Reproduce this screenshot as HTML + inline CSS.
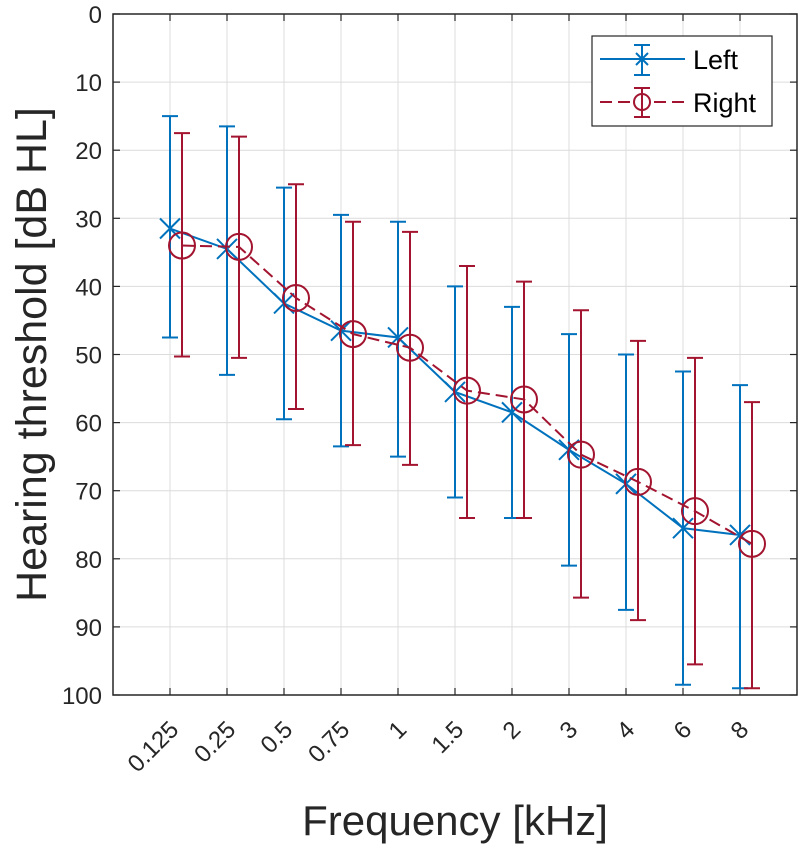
<!DOCTYPE html>
<html><head><meta charset="utf-8"><style>
body{margin:0;background:#fff;}
svg text{font-family:"Liberation Sans",Arial,sans-serif;}
</style></head><body>
<svg id="chart" width="800" height="845" xmlns="http://www.w3.org/2000/svg"></svg>
<script>
const categories=["0.125","0.25","0.5","0.75","1","1.5","2","3","4","6","8"];
const leftMean=[31.5,34.5,42.5,46.5,47.5,55.5,58.5,64,69,75.5,76.5];
const leftTop=[15,16.5,25.5,29.5,30.5,40,43,47,50,52.5,54.5];
const leftBottom=[47.5,53,59.5,63.5,65,71,74,81,87.5,98.5,99];
const rightMean=[34,34.2,41.7,47,49,55.3,56.6,64.7,68.7,73,77.8];
const rightTop=[17.5,18,25,30.5,32,37,39.3,43.5,48,50.5,57];
const rightBottom=[50.3,50.5,58,63.3,66.2,74,74,85.7,89,95.5,99];
const yTicks=[0,10,20,30,40,50,60,70,80,90,100];

const svg=document.getElementById('chart');
const NS="http://www.w3.org/2000/svg";
const L=113,R=797,T=14,B=695;
const xs=i=>L+(i+1)*(R-L)/12;
const ys=v=>T+v*(B-T)/100;
function mk(tag,attrs,parent){const e=document.createElementNS(NS,tag);for(const k in attrs)e.setAttribute(k,attrs[k]);(parent||svg).appendChild(e);return e;}

yTicks.forEach(v=>{
  const g=mk('line',{x1:L,x2:R,y1:ys(v),y2:ys(v),stroke:'#dcdcdc','stroke-width':1});
  
  
  const t=mk('line',{x1:L,x2:L+7,y1:ys(v),y2:ys(v),stroke:'#262626','stroke-width':1.2});
  
  
  const t2=mk('line',{x1:R-7,x2:R,y1:ys(v),y2:ys(v),stroke:'#262626','stroke-width':1.2});
  
  
  const lb=mk('text',{x:L-11,y:ys(v)+9,'text-anchor':'end','font-size':24,fill:'#262626'});
  lb.textContent=v;
  
  
});
categories.forEach((c,i)=>{
  const x=xs(i);
  const g=mk('line',{x1:x,x2:x,y1:T,y2:B,stroke:'#dcdcdc','stroke-width':1});
  
  
  const t=mk('line',{x1:x,x2:x,y1:B-7,y2:B,stroke:'#262626','stroke-width':1.2});
  
  
  const t2=mk('line',{x1:x,x2:x,y1:T,y2:T+7,stroke:'#262626','stroke-width':1.2});
  
  
  const lb=mk('text',{x:x+10,y:B+36,'text-anchor':'end','font-size':24,fill:'#262626',transform:`rotate(-45 ${x+10} ${B+36})`});
  lb.textContent=c;
  
  
});
const box=mk('rect',{x:L,y:T,width:R-L,height:B-T,fill:'none',stroke:'#262626','stroke-width':1.5});



function series(mean,top,bot,off,color,dash,marker,name){
  const g=mk('g',{});
  
  
  mean.forEach((m,i)=>{
    const x=xs(i)+off;
    const e=mk('path',{d:`M${x},${ys(top[i])}V${ys(bot[i])}M${x-8},${ys(top[i])}H${x+8}M${x-8},${ys(bot[i])}H${x+8}`,stroke:color,'stroke-width':2,fill:'none'},g);
    
    
  });
  const ln=mk('polyline',{points:mean.map((m,i)=>`${xs(i)+off},${ys(m)}`).join(' '),fill:'none',stroke:color,'stroke-width':2,'stroke-dasharray':dash},g);
  
  
  mean.forEach((m,i)=>{
    const x=xs(i)+off,y=ys(m);
    let e;
    if(marker==='x') e=mk('path',{d:`M${x-10},${y-10}L${x+10},${y+10}M${x-10},${y+10}L${x+10},${y-10}M${x},${y-11}V${y+11}`,stroke:color,'stroke-width':2,fill:'none'},g);
    else e=mk('circle',{cx:x,cy:y,r:13,stroke:color,'stroke-width':2,fill:'none'},g);
    
    
  });
}
series(leftMean,leftTop,leftBottom,0,'#0072BD','','x','left');
series(rightMean,rightTop,rightBottom,12,'#A2142F','12,6','o','right');

const lg=mk('g',{});


mk('rect',{x:592,y:36,width:180,height:90,fill:'#fff',stroke:'#262626','stroke-width':1.2},lg);
const e1=mk('path',{d:'M600,59H685M642,45V75M634,45H650M634,75H650M636,53L648,65M636,65L648,53',stroke:'#0072BD','stroke-width':2,fill:'none'},lg);


const t1=mk('text',{x:693,y:69,'font-size':27,fill:'#000'},lg);t1.textContent='Left';


const e2=mk('path',{d:'M600,102H685',stroke:'#A2142F','stroke-width':2,fill:'none','stroke-dasharray':'12,6'},lg);


mk('path',{d:'M642,88V117M634,88H650M634,117H650',stroke:'#A2142F','stroke-width':2,fill:'none'},lg);
mk('circle',{cx:642,cy:102,r:8,stroke:'#A2142F','stroke-width':2,fill:'#fff'},lg);
mk('path',{d:'M642,94V110',stroke:'#A2142F','stroke-width':2},lg);
const t2=mk('text',{x:693,y:112,'font-size':27,fill:'#000'},lg);t2.textContent='Right';



const yt=mk('text',{x:46,y:(T+B)/2,'text-anchor':'middle','font-size':43,fill:'#262626',transform:`rotate(-90 46 ${(T+B)/2})`});
yt.textContent='Hearing threshold [dB HL]';


const xt=mk('text',{x:(L+R)/2,y:835,'text-anchor':'middle','font-size':42,fill:'#262626'});
xt.textContent='Frequency [kHz]';


</script>
</body></html>
